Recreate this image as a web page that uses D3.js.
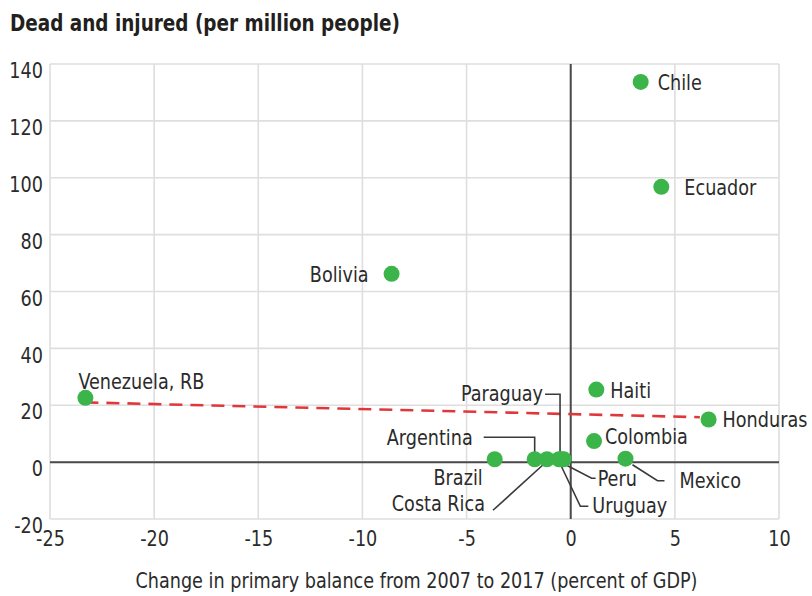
<!DOCTYPE html>
<html>
<head>
<meta charset="utf-8">
<script src="https://cdn.jsdelivr.net/npm/d3@7"></script>
<style>
  body { margin: 0; background: #fff; }
  text { font-family: "DejaVu Sans Condensed", "DejaVu Sans", sans-serif; fill: #2b2b2b; }
</style>
</head>
<body>
<div id="chart"></div>
<script>
// data
var countries = ["Venezuela, RB", "Bolivia", "Chile", "Ecuador", "Haiti", "Honduras", "Colombia",
                 "Mexico", "Brazil", "Argentina", "Costa Rica", "Paraguay", "Peru", "Uruguay"];
var balanceChange = [-23.3, -8.6, 3.36, 4.35, 1.23, 6.62, 1.12, 2.63, -3.65, -1.73, -1.14, -0.56, -0.34, -0.45];
var deadInjured = [22.6, 66.2, 133.7, 96.8, 25.5, 15.0, 7.4, 1.2, 1.0, 1.0, 1.0, 1.0, 1.0, 1.0];

var trendX = [-23.3, 6.2];
var trendY = [21.0, 15.8];

var xTicks = [-25, -20, -15, -10, -5, 0, 5, 10];
var yTicks = [-20, 0, 20, 40, 60, 80, 100, 120, 140];

var titleText = "Dead and injured (per million people)";
var xTitle = "Change in primary balance from 2007 to 2017 (percent of GDP)";

(function() {
	var width = 812;
	var height = 596;
	var margin = { top: 64, right: 33, bottom: 77, left: 50 };
	var fontStack = "\"DejaVu Sans Condensed\", \"DejaVu Sans\", sans-serif";
	var squeeze = 0.89; // the original face is narrower than DejaVu Condensed

	// label placement relative to the dot (pixels), plus leader lines
	var labelLayout = {
		"Venezuela, RB": { dx: -7, dy: -17, anchor: "start" },
		"Bolivia":  { dx: -23, dy: 0, anchor: "end" },
		"Chile":    { dx: 17, dy: 0, anchor: "start" },
		"Ecuador":  { dx: 23, dy: 0, anchor: "start" },
		"Haiti":    { dx: 14, dy: 1, anchor: "start" },
		"Honduras": { dx: 14, dy: 0, anchor: "start" },
		"Colombia": { dx: 11, dy: -5, anchor: "start" },
		"Mexico":   { dx: 54, dy: 22, anchor: "start", leader: [[7, 6], [32, 22], [39, 22]] },
		"Brazil":   { dx: -12, dy: 18, anchor: "end" },
		"Argentina": { dx: -62, dy: -22, anchor: "end", leader: [[-51, -22], [0, -22], [0, -3]] },
		"Costa Rica": { dx: -62, dy: 44, anchor: "end", leader: [[-54, 51], [0, 2]] },
		"Paraguay": { dx: -16, dy: -66, anchor: "end", leader: [[-14, -65], [1, -65], [1, -2]] },
		"Peru":     { dx: 34, dy: 19, anchor: "start", leader: [[3, 6], [28, 19], [32, 19]] },
		"Uruguay":  { dx: 31, dy: 46, anchor: "start", leader: [[0, 7], [19, 47], [27, 47]] }
	};

	function condense(sel) {
		sel.each(function() {
			var len = this.getComputedTextLength();
			d3.select(this)
			  .attr("textLength", len * squeeze)
			  .attr("lengthAdjust", "spacingAndGlyphs");
		});
	}

	var data = countries.map(function(c, i) {
		return { name: c, x: balanceChange[i], y: deadInjured[i] };
	});

	var svg = d3.select("#chart")
				.append("svg")
				.attr("width", width)
				.attr("height", height);

	var xScale = d3.scaleLinear()
				   .domain([-25, 10])
				   .range([margin.left, width - margin.right]);

	var yScale = d3.scaleLinear()
				   .domain([-20, 140])
				   .range([height - margin.bottom, margin.top]);

	// title
	svg.append("text")
	   .attr("x", 10)
	   .attr("y", 31)
	   .style("font-size", "23px")
	   .style("font-weight", "bold")
	   .style("fill", "#231f20")
	   .text(titleText)
	   .call(condense);

	// grid
	var grid = svg.append("g");

	grid.selectAll(".vgrid")
		.data(xTicks)
		.enter()
		.append("line")
		.attr("x1", function(d) { return xScale(d); })
		.attr("x2", function(d) { return xScale(d); })
		.attr("y1", yScale(140))
		.attr("y2", yScale(-20))
		.attr("stroke", "#dedede")
		.attr("stroke-width", 1.6);

	grid.selectAll(".hgrid")
		.data(yTicks)
		.enter()
		.append("line")
		.attr("x1", xScale(-25))
		.attr("x2", xScale(10))
		.attr("y1", function(d) { return yScale(d); })
		.attr("y2", function(d) { return yScale(d); })
		.attr("stroke", "#dedede")
		.attr("stroke-width", 1.6);

	// zero lines
	svg.append("line")
	   .attr("x1", xScale(0)).attr("x2", xScale(0))
	   .attr("y1", yScale(140)).attr("y2", yScale(-20))
	   .attr("stroke", "#4a4a4a")
	   .attr("stroke-width", 2);

	svg.append("line")
	   .attr("x1", xScale(-25)).attr("x2", xScale(10))
	   .attr("y1", yScale(0)).attr("y2", yScale(0))
	   .attr("stroke", "#4a4a4a")
	   .attr("stroke-width", 2);

	// axes (labels only), plain hyphen for minus like the original
	var fmt = function(d) { return String(d); };
	var yAxis = d3.axisLeft(yScale).tickValues(yTicks).tickFormat(fmt).tickSize(0).tickPadding(7);
	var xAxis = d3.axisBottom(xScale).tickValues(xTicks).tickFormat(fmt).tickSize(0).tickPadding(12);

	var gy = svg.append("g")
				.attr("transform", "translate(" + margin.left + ",0)")
				.call(yAxis);
	var gx = svg.append("g")
				.attr("transform", "translate(0," + (height - margin.bottom) + ")")
				.call(xAxis);

	[gx, gy].forEach(function(g) {
		g.attr("font-family", null).attr("font-size", null);
		g.select(".domain").remove();
		g.selectAll("text")
		 .style("font-family", fontStack)
		 .style("font-size", "22px")
		 .style("fill", "#2b2b2b")
		 .call(condense);
	});
	gy.selectAll("text").attr("dy", "0.62em");
	gx.selectAll("text").attr("dy", "0.68em");

	svg.append("text")
	   .attr("x", (xScale(-25) + xScale(10)) / 2 + 2)
	   .attr("y", 588)
	   .attr("text-anchor", "middle")
	   .style("font-size", "22px")
	   .text(xTitle)
	   .call(condense);

	// trend line
	var line = d3.line()
				 .x(function(d) { return xScale(d[0]); })
				 .y(function(d) { return yScale(d[1]); });

	svg.append("path")
	   .attr("d", line(d3.zip(trendX, trendY)))
	   .attr("fill", "none")
	   .attr("stroke", "#e0383a")
	   .attr("stroke-width", 2.6)
	   .attr("stroke-dasharray", "13,8");

	// leader lines
	svg.selectAll(".leader")
	   .data(data.filter(function(d) { return labelLayout[d.name].leader; }))
	   .enter()
	   .append("polyline")
	   .attr("points", function(d) {
	   		var cx = xScale(d.x), cy = yScale(d.y);
	   		return labelLayout[d.name].leader.map(function(p) {
	   			return (cx + p[0]) + "," + (cy + p[1]);
	   		}).join(" ");
	   })
	   .attr("fill", "none")
	   .attr("stroke", "#3a3a3a")
	   .attr("stroke-width", 1.6);

	// dots
	svg.selectAll("circle")
	   .data(data)
	   .enter()
	   .append("circle")
	   .attr("cx", function(d) { return xScale(d.x); })
	   .attr("cy", function(d) { return yScale(d.y); })
	   .attr("r", 8)
	   .attr("fill", "#3bb54a");

	// labels
	svg.selectAll(".label")
	   .data(data)
	   .enter()
	   .append("text")
	   .attr("class", "label")
	   .attr("x", function(d) { return xScale(d.x) + labelLayout[d.name].dx; })
	   .attr("y", function(d) { return yScale(d.y) + labelLayout[d.name].dy; })
	   .attr("dy", "0.35em")
	   .attr("text-anchor", function(d) { return labelLayout[d.name].anchor; })
	   .style("font-size", "22px")
	   .text(function(d) { return d.name; })
	   .call(condense);
}());
</script>
</body>
</html>
